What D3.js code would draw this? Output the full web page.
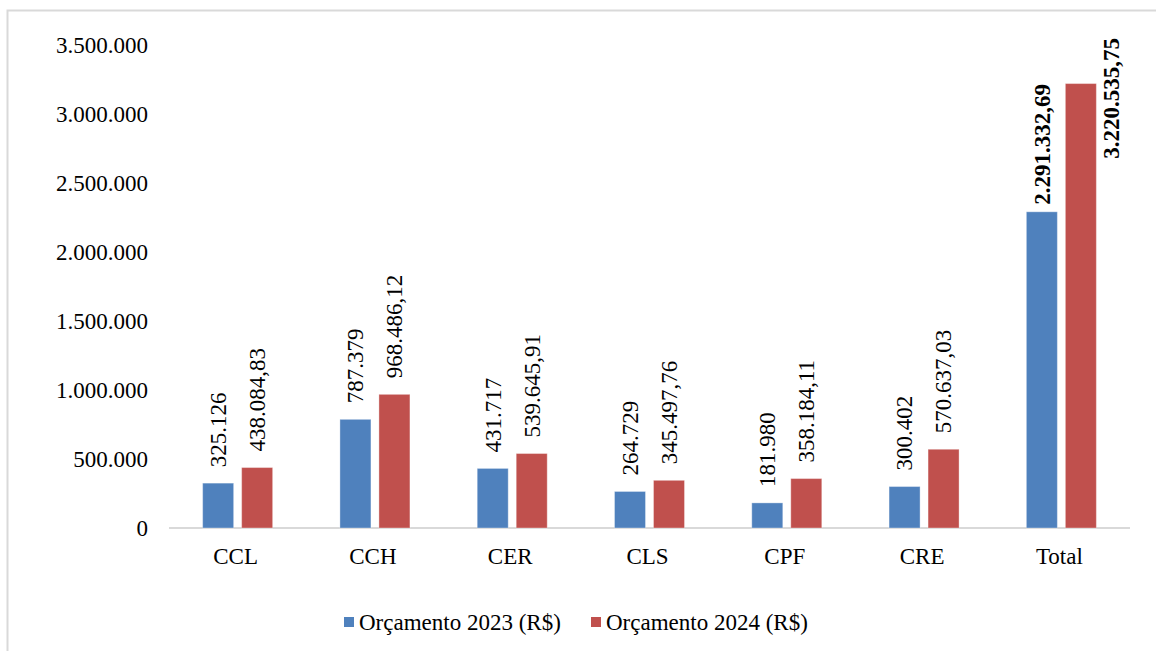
<!DOCTYPE html>
<html>
<head>
<meta charset="utf-8">
<script src="https://cdn.jsdelivr.net/npm/d3@7"></script>
<style>
  body { margin: 0; background: #fff; }
  text { font-family: "Liberation Serif", "Times New Roman", serif; fill: #000; }
</style>
</head>
<body>
<svg id="chart" width="1156" height="651"></svg>
<script>
// data
var categories = ["CCL", "CCH", "CER", "CLS", "CPF", "CRE", "Total"];
var orc2023 = [325126, 787379, 431717, 264729, 181980, 300402, 2291332.69];
var orc2024 = [438084.83, 968486.12, 539645.91, 345497.76, 358184.11, 570637.03, 3220535.75];
var labels2023 = ["325.126", "787.379", "431.717", "264.729", "181.980", "300.402", "2.291.332,69"];
var labels2024 = ["438.084,83", "968.486,12", "539.645,91", "345.497,76", "358.184,11", "570.637,03", "3.220.535,75"];
var yTicks = [0, 500000, 1000000, 1500000, 2000000, 2500000, 3000000, 3500000];
var seriesNames = ["Orçamento 2023 (R$)", "Orçamento 2024 (R$)"];
var seriesColors = ["#4F81BD", "#C0504D"];

var svg = d3.select("#chart");

// outer frame
svg.append("rect")
    .attr("x", 7.5).attr("y", 10.5)
    .attr("width", 1200).attr("height", 700)
    .attr("fill", "none")
    .attr("stroke", "#d9d9d9")
    .attr("stroke-width", 2);

var plotLeft = 169, plotRight = 1130, plotTop = 45, plotBottom = 528;

var x = d3.scaleBand().domain(categories).range([plotLeft, plotRight]);
var y = d3.scaleLinear().domain([0, 3500000]).range([plotBottom, plotTop]);

var fmt = d3.formatLocale({decimal: ",", thousands: ".", grouping: [3], currency: ["R$", ""]}).format(",.0f");

// y tick labels (no axis line in the original)
svg.append("g").selectAll("text").data(yTicks).enter()
    .append("text")
    .attr("x", 148)
    .attr("y", function(d){ return y(d); })
    .attr("dy", "0.34em")
    .style("font-size", "23px")
    .style("text-anchor", "end")
    .text(function(d){ return fmt(d); });

// baseline
svg.append("line")
    .attr("x1", plotLeft).attr("x2", plotRight)
    .attr("y1", y(0)).attr("y2", y(0))
    .attr("stroke", "#d9d9d9")
    .attr("stroke-width", 2);

var barW = 31, gap = 8;

function barX(i, s){
    var c = x(categories[i]) + x.bandwidth() / 2;
    return s == 0 ? c - gap / 2 - barW : c + gap / 2;
}

[orc2023, orc2024].forEach(function(vals, s){
    var labs = s == 0 ? labels2023 : labels2024;

    svg.append("g").selectAll("rect").data(vals).enter()
        .append("rect")
        .attr("x", function(d, i){ return barX(i, s); })
        .attr("y", function(d){ return y(d); })
        .attr("width", barW)
        .attr("height", function(d){ return y(0) - y(d); })
        .attr("fill", seriesColors[s])
        .attr("stroke", "#ffffff")
        .attr("stroke-opacity", 0.35)
        .attr("stroke-width", 1);

    svg.append("g").selectAll("text").data(vals).enter()
        .append("text")
        .attr("transform", function(d, i){
            var cx = barX(i, s) + barW / 2;
            var isTotal = categories[i] == "Total";
            if(isTotal && s == 1){
                // does not fit above the bar: sits beside it, near top of the plot
                return "translate(" + (barX(i, s) + barW + 15) + "," + (plotTop - 7) + ") rotate(-90)";
            }
            var off = isTotal ? 7 : 16;
            return "translate(" + cx + "," + (y(d) - off) + ") rotate(-90)";
        })
        .attr("dy", "0.34em")
        .style("font-size", "23px")
        .style("font-weight", function(d, i){ return categories[i] == "Total" ? "bold" : "normal"; })
        .style("text-anchor", function(d, i){ return (categories[i] == "Total" && s == 1) ? "end" : "start"; })
        .text(function(d, i){ return labs[i]; });
});

// category labels
svg.append("g").selectAll("text").data(categories).enter()
    .append("text")
    .attr("x", function(d){ return x(d) + x.bandwidth() / 2 - 2; })
    .attr("y", 556)
    .attr("dy", "0.34em")
    .style("font-size", "23px")
    .style("text-anchor", "middle")
    .text(function(d){ return d; });

// legend
var legendX = [344, 591];
seriesNames.forEach(function(name, s){
    svg.append("rect")
        .attr("x", legendX[s]).attr("y", 617)
        .attr("width", 10).attr("height", 10)
        .attr("fill", seriesColors[s]);
    svg.append("text")
        .attr("x", legendX[s] + 15)
        .attr("y", 622)
        .attr("dy", "0.34em")
        .style("font-size", "23px")
        .text(name);
});
</script>
</body>
</html>
